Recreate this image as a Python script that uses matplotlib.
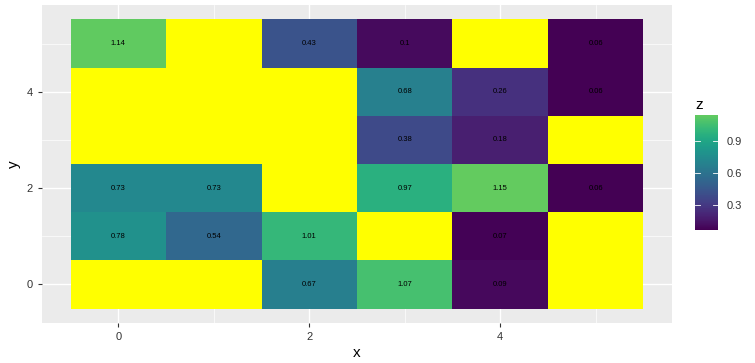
import numpy as np
import matplotlib
matplotlib.use("Agg")
from matplotlib import pyplot as plt
from matplotlib.colors import ListedColormap, Normalize

plt.rcParams['font.family'] = ['Liberation Sans', 'DejaVu Sans']

# grid values, rows are y = 0..5, columns x = 0..5 (nan = missing)
x_vals = [0, 1, 2, 3, 4, 5]
y_vals = [0, 1, 2, 3, 4, 5]
z_y0 = [np.nan, np.nan, 0.67, 1.07, 0.09, np.nan]
z_y1 = [0.78, 0.54, 1.01, np.nan, 0.07, np.nan]
z_y2 = [0.73, 0.73, np.nan, 0.97, 1.15, 0.06]
z_y3 = [np.nan, np.nan, np.nan, 0.38, 0.18, np.nan]
z_y4 = [np.nan, np.nan, np.nan, 0.68, 0.26, 0.06]
z_y5 = [1.14, np.nan, 0.43, 0.10, np.nan, 0.06]
cb_ticks = [0.3, 0.6, 0.9]

Z = np.ma.masked_invalid(np.array([z_y0, z_y1, z_y2, z_y3, z_y4, z_y5]))

cmap = ListedColormap(plt.get_cmap('viridis')(np.linspace(0, 0.76, 256)))
cmap.set_bad('#FFFF00')
norm = Normalize(vmin=np.nanmin(Z), vmax=np.nanmax(Z))

fig = plt.figure(figsize=(7.55, 3.63), dpi=100)
ax = fig.add_axes([42/755, 40/363, 630/755, 318/363])
ax.set_facecolor('#EBEBEB')

# grid lines
for v in [1, 3, 5]:
    ax.axvline(v, color='white', lw=0.5, zorder=0)
    ax.axhline(v, color='white', lw=0.5, zorder=0)
for v in [0, 2, 4]:
    ax.axvline(v, color='white', lw=1.0, zorder=0)
    ax.axhline(v, color='white', lw=1.0, zorder=0)

xe = np.arange(len(x_vals) + 1) - 0.5
ye = np.arange(len(y_vals) + 1) - 0.5
mesh = ax.pcolormesh(xe, ye, Z, cmap=cmap, norm=norm, zorder=1)

for j, yy in enumerate(y_vals):
    for i, xx in enumerate(x_vals):
        v = Z[j, i]
        if v is not np.ma.masked:
            ax.text(xx, yy, f"{v:g}", ha='center', va='center', fontsize=5.5, color='black', zorder=2)

ax.set_xlim(-0.8, 5.8)
ax.set_ylim(-0.8, 5.8)
ax.set_xticks([0, 2, 4])
ax.set_yticks([0, 2, 4])
for s in ax.spines.values():
    s.set_visible(False)
ax.tick_params(axis='both', colors='#333333', labelsize=8, length=3, width=0.8)
ax.set_xlabel('x', fontsize=11, labelpad=3)
ax.set_ylabel('y', fontsize=11, labelpad=4)

# colour bar
cax = fig.add_axes([695/755, (363-230)/363, 23/755, 115/363])
cb = fig.colorbar(mesh, cax=cax)
cb.outline.set_visible(False)
cb.set_ticks(cb_ticks)
cb.ax.tick_params(length=0, labelsize=8, colors='#333333', pad=6)
for t in cb_ticks:
    cax.plot([0, 0.2], [t, t], color='white', lw=0.6, transform=cax.get_yaxis_transform())
    cax.plot([0.8, 1.0], [t, t], color='white', lw=0.6, transform=cax.get_yaxis_transform())
cax.set_title('z', fontsize=11, loc='left', pad=4)

fig.savefig('out.png', dpi=100)
plt.close()
